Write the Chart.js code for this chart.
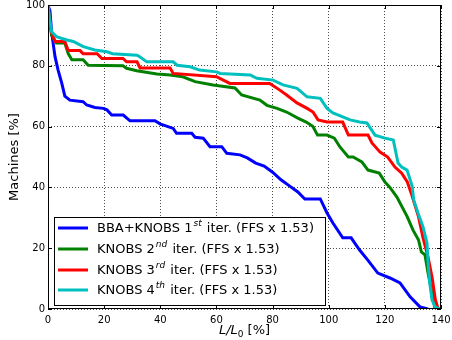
<!DOCTYPE html>
<html>
<head>
<meta charset="utf-8">
<script src="https://cdn.jsdelivr.net/npm/chart.js@4"></script>
<style>
  body { margin: 0; background: #fff; }
  canvas { display: block; }
</style>
</head>
<body>
<canvas id="machines" width="452" height="340"></canvas>
<script>
// curves, x = L/L0 [%], y = machines [%]
var bbaX = [0, 0.7, 1.3, 2.5, 3.6, 4.9, 6, 7.8, 12.5, 13.8, 16.7, 19.7, 21, 22.7, 26.8, 29.2, 38.1, 39.9, 44.6, 45.8, 51.2, 52.4, 55.3, 57.7, 61.9, 63.7, 68.4, 71, 74, 77, 80, 83, 86, 89, 91.5, 97, 99.4, 101.5, 105, 108, 111, 114, 117.5, 121.8, 125.4, 129, 132.5, 135.4];
var bbaY = [100, 98, 91, 83, 78.6, 74.3, 70, 68.7, 68.2, 67.1, 66.3, 66, 65.5, 63.8, 63.8, 61.9, 61.9, 60.9, 59.4, 57.8, 57.8, 56.5, 56.2, 53.4, 53.4, 51.2, 50.7, 49.7, 48, 47, 45, 42.5, 40.5, 38.5, 36.2, 36.2, 31.6, 28.3, 23.4, 23.4, 19.4, 16, 11.8, 10.2, 8.6, 4, 0.7, 0];

var knobs2X = [0, 0.5, 1.3, 3, 6, 7.2, 8.5, 12.5, 14.3, 26.7, 28, 31.6, 38.8, 43.5, 48, 52.4, 58.8, 66.6, 69, 75.5, 78, 81.6, 85, 89, 92, 94.4, 96, 99.4, 102, 104, 107, 108.7, 111.8, 114, 118, 120, 121.8, 124.3, 128, 130, 132, 133, 134.3, 135.4, 137.9];
var knobs2Y = [100, 95, 90, 87.5, 87.5, 84, 82, 82, 80.2, 80, 79.2, 78.4, 77.3, 77, 76.4, 74.8, 73.7, 72.7, 70.4, 68.7, 67, 66, 64.8, 62.8, 61.5, 60, 57.2, 57.2, 56.2, 53.3, 50, 50, 48.4, 45.7, 44.7, 41.8, 40, 36.8, 30.3, 26, 22.7, 18.8, 17.8, 11.8, 0];

var knobs3X = [0, 0.5, 1.3, 2.5, 6, 7.2, 11.4, 12.5, 17.5, 19.2, 26.7, 28, 31.7, 32.8, 43.5, 44.6, 60, 64.8, 79, 82.6, 85, 88.7, 92.3, 94.4, 96.2, 99.4, 105, 107, 114, 115.4, 118.3, 121, 123.6, 126, 128, 129.6, 130.7, 132, 133.6, 135.4, 136.8, 138, 139];
var knobs3Y = [100, 95, 90.8, 88, 88, 85, 85, 84, 84, 82.4, 82.4, 81.3, 81.3, 79.3, 79.3, 77.5, 76.4, 74.2, 74.2, 72, 70.4, 67.8, 66, 64.8, 62.2, 61.5, 61.5, 57.2, 57.2, 54.6, 51.6, 50, 46.7, 44.7, 41.8, 37.5, 34.2, 30.3, 23.4, 17, 10.5, 3, 0];

var knobs4X = [0, 0.5, 1.3, 3, 6.7, 9, 12.6, 16.7, 21, 23, 31.7, 32.8, 35.2, 44.6, 46, 50.6, 54, 60, 61.3, 72, 74.4, 80.2, 83.7, 88.7, 92.3, 97, 99.4, 101.5, 105, 107.6, 111, 113.6, 116.5, 120, 123, 124.7, 126, 127.9, 129.7, 130.3, 131.8, 133.6, 135, 135.4, 136, 136.8, 137.9, 139.5];
var knobs4Y = [100, 96, 91.2, 89.6, 88.5, 88, 86.3, 85.2, 84.6, 84, 83.5, 82.9, 81.3, 81.3, 80.2, 79.7, 78.6, 78, 77.5, 77, 75.9, 75.3, 73.7, 72.6, 69.8, 69.3, 66, 64.5, 63.2, 62.2, 61.5, 61.2, 57.2, 56.2, 55.6, 48, 46.7, 45.7, 40.5, 35.8, 31.6, 27, 21.7, 15.1, 8.6, 3, 0.7, 0];

var seriesNames = ["BBA+KNOBS 1", "KNOBS 2", "KNOBS 3", "KNOBS 4"];
var seriesSup = ["st", "nd", "rd", "th"];
var seriesTail = " iter. (FFS x 1.53)";
var seriesColors = ["#0000ff", "#008000", "#ff0000", "#00bfbf"];

var xTicks = [0, 20, 40, 60, 80, 100, 120, 140];
var yTicks = [0, 20, 40, 60, 80, 100];

function pts(xs, ys) {
    return xs.map(function (x, i) { return { x: x, y: ys[i] }; });
}

var allX = [bbaX, knobs2X, knobs3X, knobs4X];
var allY = [bbaY, knobs2Y, knobs3Y, knobs4Y];

var datasets = seriesNames.map(function (name, i) {
    return {
        label: name + seriesSup[i] + seriesTail,
        data: pts(allX[i], allY[i]),
        borderColor: seriesColors[i],
        borderWidth: 3,
        pointRadius: 0,
        tension: 0,
        fill: false,
        order: 4 - i
    };
});

var FONT = "DejaVu Sans";

// frame, inward ticks, axis titles and the boxed legend
var decorations = {
    id: "decorations",
    afterDraw: function (chart) {
        var ctx = chart.ctx;
        var a = chart.chartArea;
        var xs = chart.scales.x, ys = chart.scales.y;
        ctx.save();
        ctx.strokeStyle = "#000";
        ctx.lineWidth = 1;
        ctx.setLineDash([]);
        ctx.strokeRect(a.left + 0.5, a.top + 0.5, a.right - a.left - 1, a.bottom - a.top - 1);

        ctx.beginPath();
        xTicks.forEach(function (t) {
            var px = Math.round(xs.getPixelForValue(t)) + 0.5;
            ctx.moveTo(px, a.bottom); ctx.lineTo(px, a.bottom - 4);
            ctx.moveTo(px, a.top); ctx.lineTo(px, a.top + 4);
        });
        yTicks.forEach(function (t) {
            var py = Math.round(ys.getPixelForValue(t)) + 0.5;
            ctx.moveTo(a.left, py); ctx.lineTo(a.left + 4, py);
            ctx.moveTo(a.right, py); ctx.lineTo(a.right - 4, py);
        });
        ctx.stroke();

        // y title
        ctx.fillStyle = "#000";
        ctx.font = "13px '" + FONT + "'";
        ctx.textAlign = "center";
        ctx.textBaseline = "middle";
        ctx.save();
        ctx.translate(15, (a.top + a.bottom) / 2);
        ctx.rotate(-Math.PI / 2);
        ctx.fillText("Machines [%]", 0, 0);
        ctx.restore();

        // x title: L/L_0 [%]
        var cx = (a.left + a.right) / 2, by = 334;
        ctx.textAlign = "left";
        ctx.textBaseline = "alphabetic";
        var p1 = "L/L", p2 = "0", p3 = " [%]";
        ctx.font = "italic 13px '" + FONT + "'";
        var w1 = ctx.measureText(p1).width;
        ctx.font = "9px '" + FONT + "'";
        var w2 = ctx.measureText(p2).width;
        ctx.font = "13px '" + FONT + "'";
        var w3 = ctx.measureText(p3).width;
        var sx = cx - (w1 + w2 + w3) / 2;
        ctx.font = "italic 13px '" + FONT + "'";
        ctx.fillText(p1, sx, by);
        ctx.font = "9px '" + FONT + "'";
        ctx.fillText(p2, sx + w1, by + 3);
        ctx.font = "13px '" + FONT + "'";
        ctx.fillText(p3, sx + w1 + w2, by);

        // legend
        var lx = 54, ly = 217, lw = 271, lh = 88;
        ctx.fillStyle = "#fff";
        ctx.fillRect(lx, ly, lw, lh);
        ctx.strokeStyle = "#000";
        ctx.strokeRect(lx + 0.5, ly + 0.5, lw, lh);
        var rows = [228, 249, 270, 290];
        seriesNames.forEach(function (name, i) {
            var ry = rows[i];
            ctx.strokeStyle = seriesColors[i];
            ctx.lineWidth = 3;
            ctx.beginPath();
            ctx.moveTo(58, ry); ctx.lineTo(88, ry);
            ctx.stroke();
            ctx.fillStyle = "#000";
            ctx.textBaseline = "middle";
            var tx = 97;
            ctx.font = "13px '" + FONT + "'";
            ctx.fillText(name, tx, ry + 1);
            tx += ctx.measureText(name).width;
            ctx.font = "italic 9px '" + FONT + "'";
            ctx.fillText(seriesSup[i], tx + 1, ry - 4);
            tx += ctx.measureText(seriesSup[i]).width + 2;
            ctx.font = "13px '" + FONT + "'";
            ctx.fillText(seriesTail, tx, ry + 1);
        });
        ctx.restore();
    }
};

new Chart(document.getElementById("machines"), {
    type: "line",
    data: { datasets: datasets },
    options: {
        responsive: false,
        animation: false,
        devicePixelRatio: 1,
        layout: { padding: { top: 5, right: 11, left: 0, bottom: 0 } },
        plugins: { legend: { display: false }, tooltip: { enabled: false } },
        scales: {
            x: {
                type: "linear",
                min: 0, max: 140,
                afterFit: function (s) { s.height = 31; s.paddingLeft = 0; s.paddingRight = 0; },
                afterBuildTicks: function (s) { s.ticks = xTicks.map(function (v) { return { value: v }; }); },
                ticks: { color: "#000", padding: 5, maxRotation: 0, font: { family: FONT, size: 10 } },
                grid: { color: "rgba(0,0,0,0.7)", lineWidth: 1, drawTicks: false },
                border: { display: false, dash: [1, 2] }
            },
            y: {
                type: "linear",
                min: 0, max: 100,
                afterFit: function (s) { s.width = 48; s.paddingTop = 0; s.paddingBottom = 0; },
                afterBuildTicks: function (s) { s.ticks = yTicks.map(function (v) { return { value: v }; }); },
                ticks: { color: "#000", padding: 3, font: { family: FONT, size: 10 } },
                grid: { color: "rgba(0,0,0,0.7)", lineWidth: 1, drawTicks: false },
                border: { display: false, dash: [1, 2] }
            }
        }
    },
    plugins: [decorations]
});
</script>
</body>
</html>
